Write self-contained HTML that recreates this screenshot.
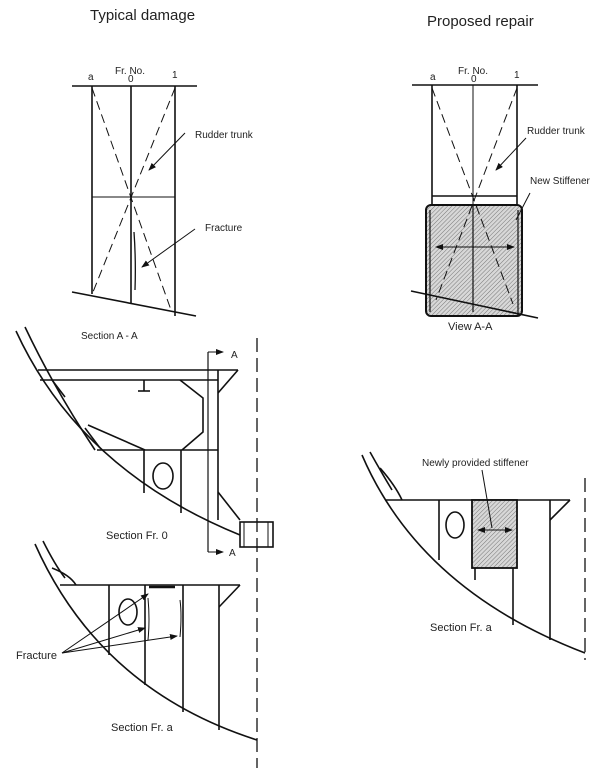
<!DOCTYPE html>
<html><head><meta charset="utf-8"><style>
html,body{margin:0;padding:0;background:#fff;}
svg{display:block;font-family:"Liberation Sans",sans-serif;}
text{fill:#222;}
</style></head><body>
<svg width="605" height="768" viewBox="0 0 605 768" xmlns="http://www.w3.org/2000/svg">
<defs>
<pattern id="h" width="3" height="3" patternUnits="userSpaceOnUse" patternTransform="rotate(45)">
<rect width="3" height="3" fill="#d8d8d8"/><line x1="0" y1="0" x2="0" y2="3" stroke="#777" stroke-width="1"/>
</pattern>
<marker id="ar" markerWidth="8" markerHeight="6" refX="7" refY="3" orient="auto" markerUnits="userSpaceOnUse"><path d="M0,0 L8,3 L0,6 z" fill="#111"/></marker>
<marker id="al" markerWidth="8" markerHeight="6" refX="1" refY="3" orient="auto" markerUnits="userSpaceOnUse"><path d="M8,0 L0,3 L8,6 z" fill="#111"/></marker>
</defs>
<g stroke="#111" fill="none" stroke-width="1.6">
<!-- top-left -->
<line x1="72" y1="86" x2="197" y2="86"/>
<line x1="92" y1="86" x2="92" y2="294"/>
<line x1="131" y1="86" x2="131" y2="304"/>
<line x1="175" y1="86" x2="175" y2="316"/>
<line x1="92" y1="197" x2="175" y2="197" stroke-width="1"/>
<line x1="72" y1="292" x2="196" y2="316"/>
<line x1="92" y1="88" x2="171" y2="310" stroke-dasharray="9,5" stroke-width="1"/>
<line x1="175" y1="88" x2="93" y2="292" stroke-dasharray="9,5" stroke-width="1"/>
<path d="M134,232 Q136,260 135,290" stroke-width="1.3"/>
<line x1="185" y1="133" x2="149" y2="170" stroke-width="1" marker-end="url(#ar)"/>
<line x1="195" y1="229" x2="142" y2="267" stroke-width="1" marker-end="url(#ar)"/>
<!-- top-right -->
<line x1="412" y1="85" x2="538" y2="85"/>
<line x1="432" y1="85" x2="432" y2="235"/>
<line x1="517" y1="85" x2="517" y2="235"/>
<line x1="473" y1="85" x2="473" y2="238" stroke-width="1"/>
<line x1="432" y1="196" x2="517" y2="196"/>
<rect x="426" y="205" width="96" height="111" rx="5" fill="url(#h)" stroke-width="2"/>
<line x1="473" y1="205" x2="473" y2="312" stroke-width="1.2"/>
<line x1="430" y1="210" x2="430" y2="312" stroke-width="1.2"/>
<line x1="518" y1="210" x2="518" y2="316" stroke-width="1.2"/>
<line x1="411" y1="291" x2="538" y2="318"/>
<line x1="432" y1="88" x2="513" y2="304" stroke-dasharray="9,5" stroke-width="1"/>
<line x1="517" y1="88" x2="436" y2="300" stroke-dasharray="9,5" stroke-width="1"/>
<line x1="436" y1="247" x2="514" y2="247" stroke-width="1" marker-start="url(#al)" marker-end="url(#ar)"/>
<line x1="526" y1="138" x2="496" y2="170" stroke-width="1" marker-end="url(#ar)"/>
<line x1="530" y1="193" x2="516" y2="220" stroke-width="1"/>
<!-- Section Fr. 0 -->
<path d="M16,331 Q80,470 240,535"/>
<path d="M25,327 Q55,390 95,450"/>
<line x1="38" y1="370" x2="238" y2="370"/>
<line x1="40" y1="380" x2="218" y2="380"/>
<polyline points="218,393 238,370"/>
<polyline points="52,380 65,397"/>
<line x1="144" y1="380" x2="144" y2="391"/><line x1="138" y1="391" x2="150" y2="391"/>
<polyline points="180,380 203,398 203,432 182,450"/>
<line x1="97" y1="450" x2="218" y2="450"/>
<polyline points="88,425 145,450"/>
<polyline points="85,428 100,448"/>
<line x1="144" y1="450" x2="144" y2="493"/>
<line x1="181" y1="450" x2="181" y2="513"/>
<ellipse cx="163" cy="476" rx="10" ry="13"/>
<polyline points="208,352 208,552" stroke-width="1.2"/>
<line x1="218" y1="370" x2="218" y2="520"/>
<line x1="208" y1="352" x2="223" y2="352" stroke-width="1" marker-end="url(#ar)"/>
<line x1="208" y1="552" x2="223" y2="552" stroke-width="1" marker-end="url(#ar)"/>
<line x1="218" y1="492" x2="240" y2="520"/>
<rect x="240" y="522" width="33" height="25"/>
<line x1="244" y1="522" x2="244" y2="547" stroke-width="1"/>
<line x1="268" y1="522" x2="268" y2="547" stroke-width="1"/>
<line x1="257" y1="338" x2="257" y2="768" stroke-dasharray="14,6" stroke-width="1.3"/>
<!-- Section Fr. a left -->
<path d="M35,544 Q100,690 257,740"/>
<path d="M43,541 Q55,565 65,578"/>
<path d="M52,568 Q70,575 76,585"/>
<line x1="60" y1="585" x2="240" y2="585"/>
<line x1="219" y1="607" x2="240" y2="585"/>
<line x1="109" y1="585" x2="109" y2="655"/>
<line x1="145" y1="585" x2="145" y2="685"/>
<line x1="183" y1="585" x2="183" y2="712"/>
<line x1="219" y1="585" x2="219" y2="730"/>
<ellipse cx="128" cy="612" rx="9" ry="13"/>
<line x1="149" y1="587" x2="175" y2="587" stroke-width="2.5"/>
<path d="M148,598 Q150,620 148,640" stroke-width="1"/>
<path d="M180,600 Q182,615 180,637" stroke-width="1"/>
<line x1="62" y1="653" x2="148" y2="594" stroke-width="1" marker-end="url(#ar)"/>
<line x1="62" y1="653" x2="145" y2="628" stroke-width="1" marker-end="url(#ar)"/>
<line x1="62" y1="653" x2="177" y2="636" stroke-width="1" marker-end="url(#ar)"/>
<!-- right Section Fr. a -->
<path d="M362,455 Q420,590 585,653"/>
<path d="M370,452 Q380,470 392,490"/>
<path d="M380,468 Q395,485 402,500"/>
<line x1="385" y1="500" x2="570" y2="500"/>
<line x1="550" y1="520" x2="570" y2="500"/>
<line x1="439" y1="500" x2="439" y2="560"/>
<line x1="475" y1="568" x2="475" y2="580"/>
<line x1="513" y1="568" x2="513" y2="625"/>
<line x1="550" y1="500" x2="550" y2="640"/>
<ellipse cx="455" cy="525" rx="9" ry="13"/>
<rect x="472" y="500" width="45" height="68" fill="url(#h)" stroke-width="1.8"/>
<line x1="478" y1="530" x2="512" y2="530" stroke-width="1" marker-start="url(#al)" marker-end="url(#ar)"/>
<line x1="482" y1="470" x2="492" y2="528" stroke-width="1"/>
<line x1="585" y1="478" x2="585" y2="660" stroke-dasharray="14,6" stroke-width="1.3"/>
</g>
<g font-size="10">
<text x="90" y="20" font-size="15">Typical damage</text>
<text x="427" y="26" font-size="15">Proposed repair</text>
<text x="115" y="74">Fr. No.</text>
<text x="88" y="80">a</text><text x="128" y="82">0</text><text x="172" y="78">1</text>
<text x="195" y="138">Rudder trunk</text>
<text x="205" y="231">Fracture</text>
<text x="458" y="74">Fr. No.</text>
<text x="430" y="80">a</text><text x="471" y="82">0</text><text x="514" y="78">1</text>
<text x="527" y="134">Rudder trunk</text>
<text x="530" y="184">New Stiffener</text>
<text x="448" y="330" font-size="11">View A-A</text>
<text x="81" y="339">Section A - A</text>
<text x="231" y="358">A</text>
<text x="106" y="539" font-size="11">Section Fr. 0</text>
<text x="229" y="556">A</text>
<text x="16" y="659" font-size="11">Fracture</text>
<text x="111" y="731" font-size="11">Section Fr. a</text>
<text x="422" y="466">Newly provided stiffener</text>
<text x="430" y="631" font-size="11">Section Fr. a</text>
</g>
</svg>
</body></html>
